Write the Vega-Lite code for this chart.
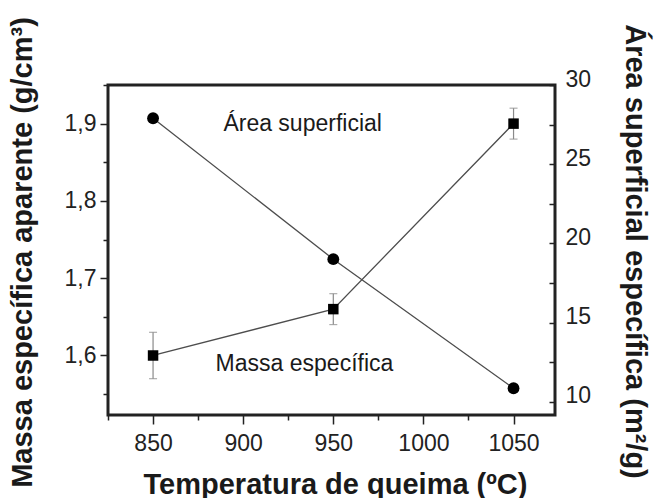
{
  "$schema": "https://vega.github.io/schema/vega-lite/v6.json",
  "width": 447,
  "height": 330,
  "autosize": {"type": "none"},
  "padding": {"left": 108, "top": 85, "right": 99, "bottom": 83},
  "background": "white",
  "config": {
    "view": {"stroke": "#222222", "strokeWidth": 3},
    "axis": {
      "domain": false,
      "grid": false,
      "labelFont": "Liberation Sans",
      "labelFontSize": 23,
      "labelColor": "#222222",
      "titleFont": "Liberation Sans",
      "titleFontSize": 29,
      "titleFontWeight": "bold",
      "titleColor": "#1a1a1a",
      "tickColor": "#222222",
      "tickWidth": 1.5,
      "labelOverlap": false,
      "labelFlush": false
    },
    "text": {"font": "Liberation Sans"}
  },
  "data": {
    "values": [
      {"series": "massa", "temp": 850, "value": 1.60, "lo": 1.57, "hi": 1.63},
      {"series": "massa", "temp": 950, "value": 1.66, "lo": 1.64, "hi": 1.68},
      {"series": "massa", "temp": 1050, "value": 1.90, "lo": 1.88, "hi": 1.92},
      {"series": "area", "temp": 850, "value": 27.9},
      {"series": "area", "temp": 950, "value": 19.0},
      {"series": "area", "temp": 1050, "value": 10.85},
      {"series": "label", "temp": 933, "value": 1.9, "text": "Área superficial"},
      {"series": "label", "temp": 934, "value": 1.589, "text": "Massa específica"}
    ]
  },
  "layer": [
    {
      "encoding": {
        "x": {
          "field": "temp",
          "type": "quantitative",
          "scale": {"domain": [825, 1073], "nice": false, "zero": false},
          "axis": null
        }
      },
      "layer": [
        {
          "transform": [{"filter": "datum.series === 'massa'"}],
          "mark": {"type": "rule", "color": "#8a8a8a", "strokeWidth": 1.2},
          "encoding": {
            "x": {
              "field": "temp",
              "type": "quantitative",
              "scale": {"domain": [825, 1073], "nice": false, "zero": false},
              "axis": {
                "orient": "bottom",
                "values": [850, 900, 950, 1000, 1050],
                "format": "d",
                "tickSize": 9,
                "labelPadding": 8,
                "title": "Temperatura de queima (ºC)",
                "titleX": 227,
                "titleY": 78,
                "titleAlign": "center",
                "titleBaseline": "alphabetic"
              }
            },
            "y": {
              "field": "lo",
              "type": "quantitative",
              "scale": {"domain": [1.523, 1.95], "nice": false, "zero": false},
              "axis": {
                "orient": "left",
                "values": [1.6, 1.7, 1.8, 1.9],
                "labelExpr": "replace(format(datum.value, '.1f'), '.', ',')",
                "tickSize": 8,
                "labelPadding": 4,
                "title": "Massa específica aparente (g/cm³)",
                "titleX": -77,
                "titleY": 167,
                "titleAngle": 270,
                "titleAlign": "center",
                "titleBaseline": "alphabetic"
              }
            },
            "y2": {"field": "hi"}
          }
        },
        {
          "transform": [{"filter": "datum.series === 'massa'"}],
          "mark": {"type": "tick", "orient": "horizontal", "size": 8, "thickness": 1.2, "color": "#8a8a8a"},
          "encoding": {
            "x": {
              "field": "temp",
              "type": "quantitative",
              "axis": {
                "orient": "bottom",
                "values": [825, 875, 925, 975, 1025],
                "labels": false,
                "tickSize": 5,
                "title": null
              }
            },
            "y": {
              "field": "lo",
              "type": "quantitative",
              "axis": {
                "orient": "left",
                "values": [1.55, 1.65, 1.75, 1.85, 1.95],
                "labels": false,
                "tickSize": 5,
                "title": null
              }
            }
          }
        },
        {
          "transform": [{"filter": "datum.series === 'massa'"}],
          "mark": {"type": "tick", "orient": "horizontal", "size": 8, "thickness": 1.2, "color": "#8a8a8a"},
          "encoding": {"y": {"field": "hi", "type": "quantitative", "axis": null}}
        },
        {
          "transform": [{"filter": "datum.series === 'massa'"}],
          "mark": {"type": "line", "color": "#4d4d4d", "strokeWidth": 1.3},
          "encoding": {"y": {"field": "value", "type": "quantitative", "axis": null}}
        },
        {
          "transform": [{"filter": "datum.series === 'massa'"}],
          "mark": {"type": "point", "shape": "square", "filled": true, "color": "#000000", "size": 110, "opacity": 1},
          "encoding": {"y": {"field": "value", "type": "quantitative", "axis": null}}
        },
        {
          "transform": [{"filter": "datum.series === 'label'"}],
          "mark": {"type": "text", "fontSize": 23, "color": "#1a1a1a", "align": "center", "baseline": "middle"},
          "encoding": {
            "y": {"field": "value", "type": "quantitative", "axis": null},
            "text": {"field": "text"}
          }
        }
      ],
      "resolve": {"axis": {"x": "independent", "y": "independent"}}
    },
    {
      "transform": [{"filter": "datum.series === 'area'"}],
      "encoding": {
        "x": {
          "field": "temp",
          "type": "quantitative",
          "scale": {"domain": [825, 1073], "nice": false, "zero": false},
          "axis": null
        },
        "y": {
          "field": "value",
          "type": "quantitative",
          "scale": {"domain": [9.16, 30], "nice": false, "zero": false},
          "axis": {
            "orient": "right",
            "values": [10, 12.5, 15, 17.5, 20, 22.5, 25, 27.5, 30],
            "labelExpr": "datum.value % 5 === 0 ? datum.label : ''",
            "tickSize": -6,
            "labelPadding": 16,
            "labelOffset": -6,
            "title": "Área superficial específica (m²/g)",
            "titleX": 70,
            "titleY": 166,
            "titleAngle": 90,
            "titleAlign": "center",
            "titleBaseline": "alphabetic"
          }
        }
      },
      "layer": [
        {"mark": {"type": "line", "color": "#4d4d4d", "strokeWidth": 1.3}},
        {"mark": {"type": "point", "shape": "circle", "filled": true, "color": "#000000", "size": 140, "opacity": 1}}
      ]
    }
  ],
  "resolve": {"scale": {"y": "independent"}, "axis": {"x": "independent", "y": "independent"}}
}
